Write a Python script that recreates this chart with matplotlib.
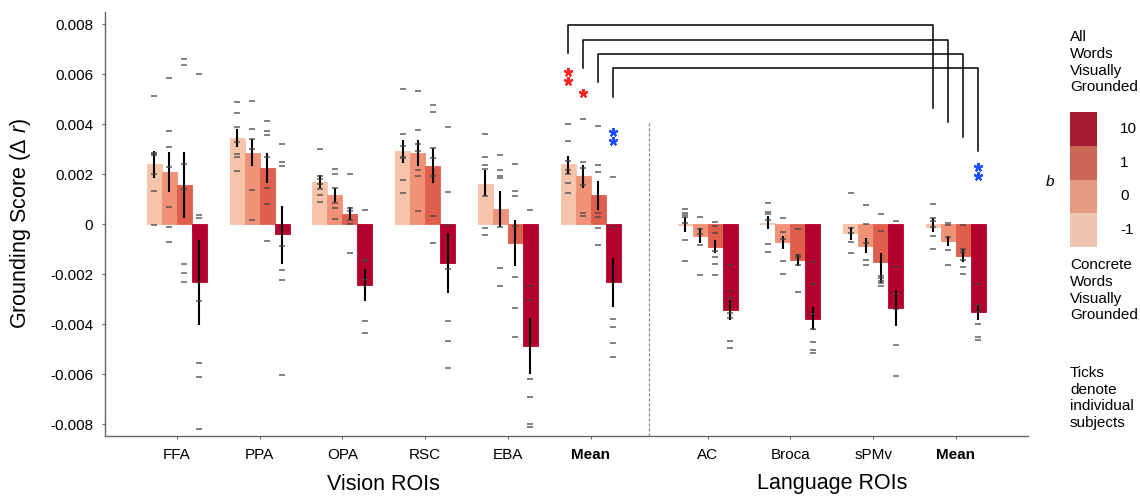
import matplotlib
matplotlib.use('Agg')
import matplotlib.pyplot as plt
import numpy as np

plt.rcParams['font.family'] = ['Liberation Sans', 'DejaVu Sans']
plt.rcParams['mathtext.fontset'] = 'custom'
plt.rcParams['mathtext.it'] = 'Liberation Sans:italic'
plt.rcParams['mathtext.rm'] = 'Liberation Sans'

# ROI names (vision group then language group)
rois = ['FFA', 'PPA', 'OPA', 'RSC', 'EBA', 'Mean', 'AC', 'Broca', 'sPMv', 'Mean']
b_levels = ['-1', '0', '1', '10']

# bar heights, in units of 1e-3
mean_bm1 = [2.39, 3.44, 1.67, 2.91, 1.61, 2.40, -0.05, 0.04, -0.35, -0.13]
mean_b0 = [2.09, 2.85, 1.16, 2.84, 0.61, 1.92, -0.48, -0.72, -0.87, -0.68]
mean_b1 = [1.56, 2.24, 0.40, 2.33, -0.75, 1.16, -0.92, -1.43, -1.52, -1.29]
mean_b10 = [-2.33, -0.41, -2.44, -1.57, -4.88, -2.33, -3.45, -3.79, -3.35, -3.53]

# error bar ends (low, high), units of 1e-3
err_bm1 = [(1.83, 2.93), (3.09, 3.79), (1.45, 1.96), (2.45, 3.36), (1.13, 2.16),
           (2.00, 2.73), (-0.32, 0.29), (-0.21, 0.32), (-0.64, -0.11), (-0.31, 0.23)]
err_b0 = [(1.29, 2.89), (2.32, 3.40), (0.89, 1.45), (2.32, 3.36), (-0.11, 1.33),
          (1.45, 2.36), (-0.75, -0.17), (-1.00, -0.47), (-1.17, -0.57), (-0.88, -0.48)]
err_b1 = [(0.24, 2.87), (1.63, 2.85), (0.16, 0.69), (1.65, 3.03), (-1.67, 0.15),
          (0.56, 1.73), (-1.17, -0.64), (-1.68, -1.20), (-2.37, -1.15), (-1.51, -1.01)]
err_b10 = [(-4.04, -0.64), (-1.59, 0.73), (-3.08, -1.81), (-2.77, -0.37), (-6.01, -3.75),
           (-3.31, -1.36), (-3.84, -3.04), (-4.24, -3.33), (-4.08, -2.64), (-3.84, -3.24)]

# individual subjects, units of 1e-3
subj_bm1 = [
    [5.12, 2.83, 2.79, 2.76, 2.00, 1.31, -0.04],
    [4.89, 4.44, 3.88, 3.28, 2.81, 2.69, 2.11],
    [2.99, 1.93, 1.79, 1.60, 1.39, 1.17, 0.88],
    [5.40, 3.59, 3.12, 2.69, 2.64, 1.76, 1.24],
    [3.61, 2.68, 2.35, 2.21, 1.13, -0.16, -0.44],
    [4.00, 3.33, 2.53, 2.15, 1.99, 1.64, 1.23],
    [0.61, 0.43, 0.35, 0.27, 0.05, -0.63, -1.48],
    [0.85, 0.48, 0.40, 0.15, -0.80, -1.12],
    [1.25, -0.17, -0.37, -0.72, -1.15],
    [0.79, 0.23, 0.12, -0.11, -0.47, -1.01],
]
subj_b0 = [
    [5.84, 3.71, 3.07, 2.28, 0.67, -0.12, -0.73],
    [4.93, 3.80, 3.39, 3.01, 1.36, 0.16],
    [2.21, 2.00, 1.44, 0.83, 0.63, 0.21],
    [5.32, 3.75, 3.21, 2.92, 2.17, 1.93, 0.53],
    [2.75, 2.17, 1.92, 1.85, -0.11, -1.75, -2.49],
    [4.20, 2.49, 2.23, 1.56, 0.43, 0.32],
    [0.27, -0.21, -0.39, -0.84, -2.04],
    [0.24, -0.32, -0.59, -1.48, -2.00],
    [0.76, 0.00, -0.77, -1.44, -1.65],
    [0.03, -0.04, -0.51, -1.04, -1.65],
]
subj_b1 = [
    [6.60, 6.37, 2.39, 1.40, -1.60, -1.96, -2.32],
    [4.12, 3.71, 3.57, 2.69, 1.45, 0.81, -0.67],
    [2.01, 0.65, 0.53, 0.15, 0.00, -1.16],
    [4.76, 4.49, 3.03, 2.64, 1.91, 0.33, -0.75],
    [2.40, 1.33, 1.12, -0.09, -2.11, -3.35, -4.53],
    [3.92, 2.35, 2.08, 0.45, 0.29, -0.15, -0.84],
    [0.09, -0.08, -0.37, -1.07, -1.31, -1.59, -2.05],
    [-0.19, -1.23, -1.33, -1.64, -2.72],
    [0.41, -0.27, -2.08, -2.17, -2.27, -2.37, -2.48],
    [-0.05, -1.01, -1.11, -1.44, -1.71, -2.00],
]
subj_b10 = [
    [6.01, 0.36, 0.25, -3.08, -5.56, -6.12, -8.21],
    [3.20, 2.48, 2.33, -0.87, -1.83, -2.23, -6.04],
    [0.57, -1.44, -1.47, -2.19, -3.88, -4.36],
    [3.87, 1.28, -0.05, -1.80, -3.88, -4.69, -5.75],
    [0.56, -2.48, -3.05, -6.20, -6.93, -8.00, -8.11],
    [1.89, -0.11, -3.81, -4.11, -4.75, -5.32],
    [-1.63, -2.67, -2.96, -3.57, -3.75, -4.68, -4.96],
    [-1.53, -2.41, -3.60, -4.21, -4.72, -5.04, -5.16],
    [0.11, -1.72, -2.80, -3.39, -4.85, -6.08],
    [-2.41, -3.24, -3.48, -4.00, -4.51, -4.64],
]

# group positions (language group shifted right by a gap)
xpos = np.array([0, 1, 2, 3, 4, 5, 6.41, 7.41, 8.41, 9.41])
w = 0.181
colors = ['#f6c4aa', '#ef9278', '#df5f4e', '#b3002c']
leg_colors = ['#efc5b0', '#e69a80', '#cc6654', '#a51a2e']
sc = 1e-3

means = [mean_bm1, mean_b0, mean_b1, mean_b10]
errs = [err_bm1, err_b0, err_b1, err_b10]
subjs = [subj_bm1, subj_b0, subj_b1, subj_b10]

fig = plt.figure(figsize=(11.4, 5.04), dpi=100)
ax = fig.add_axes([105 / 1140, 68 / 504, 923 / 1140, 424 / 504])

for k in range(4):
    xs = xpos + (k - 1.5) * w
    vals = np.array(means[k]) * sc
    ax.bar(xs, vals, width=w, color=colors[k], edgecolor=colors[k],
           linewidth=0.6, zorder=2)
    lo = np.array([e[0] for e in errs[k]]) * sc
    hi = np.array([e[1] for e in errs[k]]) * sc
    ax.vlines(xs, lo, hi, color='black', linewidth=1.5, zorder=4)
    for i in range(len(xs)):
        pts = np.array(subjs[k][i]) * sc
        ax.plot([xs[i]] * len(pts), pts, linestyle='none', marker='_',
                markersize=4, markeredgewidth=1.1, color='#444444',
                alpha=0.85, zorder=5)

# significance brackets between the two Mean groups
vm = xpos[5] + (np.arange(4) - 1.5) * w
lm = xpos[9] + (np.arange(4) - 1.5) * w
br_top = [7.95, 7.37, 6.81, 6.24]
br_left = [6.83, 6.23, 5.67, 5.09]
br_right = [4.63, 4.07, 3.48, 2.92]
for k in range(4):
    ax.plot([vm[k], vm[k], lm[k], lm[k]],
            [br_left[k] * sc, br_top[k] * sc, br_top[k] * sc, br_right[k] * sc],
            color='black', linewidth=1.1, zorder=3, clip_on=False)

# stars
star_x = [vm[0], vm[0], vm[1], vm[3], vm[3], lm[3], lm[3]]
star_y = [6.09, 5.73, 5.25, 3.69, 3.33, 2.29, 1.93]
star_c = ['#ff2020', '#ff2020', '#ff2020', '#1f4fff', '#1f4fff', '#1f4fff', '#1f4fff']
for sx, sy, c in zip(star_x, star_y, star_c):
    ax.plot(sx, sy * sc, marker=(5, 2, 0), markersize=6.5, markeredgewidth=1.5,
            color=c, linestyle='none', zorder=6)

# divider between vision and language ROIs
ax.vlines(5.705, -0.00848, 4.07 * sc, colors='#888888', linestyles=(0, (2.5, 1.5)),
          linewidth=0.9, zorder=1)

ax.set_xlim(-0.866, 10.28)
ax.set_ylim(-0.00848, 0.00848)
yt = np.arange(-8, 9, 2) * sc
ax.set_yticks(yt)
ax.set_yticklabels(['0' if abs(v) < 1e-9 else '%.3f' % v for v in yt], fontsize=11)
ax.set_xticks(xpos)
ax.set_xticklabels(rois, fontsize=11)
for i in (5, 9):
    ax.get_xticklabels()[i].set_fontweight('bold')
ax.tick_params(axis='both', length=2.5, width=0.8, color='#666666', pad=6)
for s in ['top', 'right']:
    ax.spines[s].set_visible(False)
for s in ['left', 'bottom']:
    ax.spines[s].set_color('#666666')
    ax.spines[s].set_linewidth(1.0)

ax.set_ylabel('Grounding Score (Δ $r$)', fontsize=15.5)
ax.yaxis.set_label_coords(-0.078, 0.5)

ax.text(2.5, -0.0104, 'Vision ROIs', ha='center', va='center', fontsize=15.5)
ax.text(7.91, -0.0104, 'Language ROIs', ha='center', va='center', fontsize=15.5)

# discrete legend for b
lax = fig.add_axes([1070 / 1140, 257 / 504, 27 / 1140, 135 / 504])
lax.bar([0] * 4, [1] * 4, bottom=np.arange(4), width=1, color=leg_colors)
lax.set_xlim(-0.5, 0.5)
lax.set_ylim(0, 4)
lax.axis('off')
for k, lab in enumerate(b_levels):
    lax.text(1.35, k + 0.5, lab, transform=lax.transData, ha='left', va='center',
             fontsize=11)
fig.text(1050 / 1140, 1 - 182 / 504, 'b', style='italic', fontsize=11,
         ha='center', va='center')
fig.text(1070 / 1140, 1 - 30 / 504, 'All\nWords\nVisually\nGrounded',
         ha='left', va='top', fontsize=11, linespacing=1.25)
fig.text(1070 / 1140, 1 - 258 / 504, 'Concrete\nWords\nVisually\nGrounded',
         ha='left', va='top', fontsize=11, linespacing=1.25)
fig.text(1070 / 1140, 1 - 366 / 504, 'Ticks\ndenote\nindividual\nsubjects',
         ha='left', va='top', fontsize=11, linespacing=1.25)

fig.savefig('out.png', dpi=100)
